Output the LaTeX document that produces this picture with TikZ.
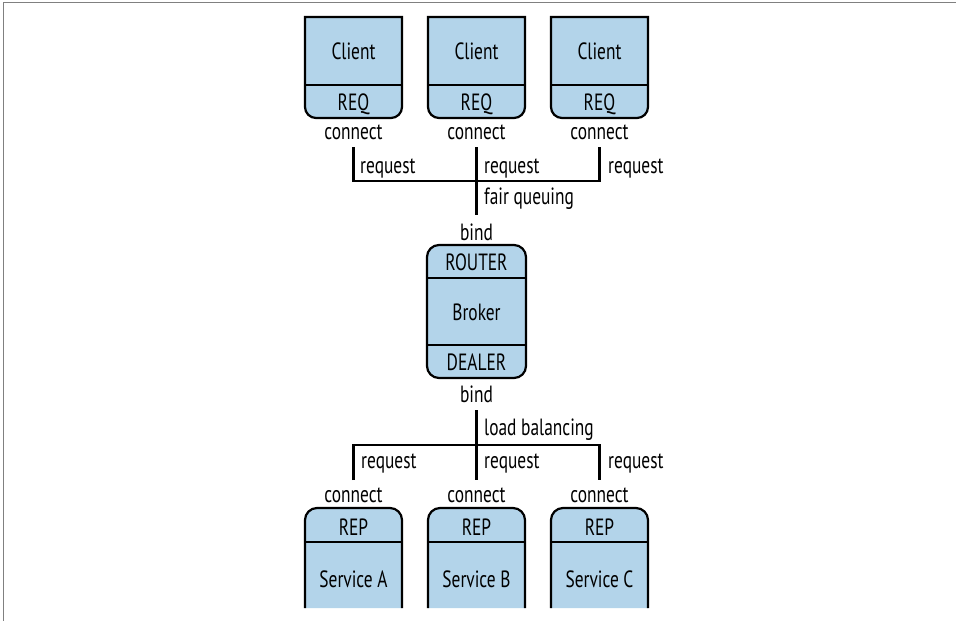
\documentclass[tikz,border=0pt]{standalone}
\usepackage{fontspec}
\setmainfont{PT Sans}[FakeStretch=0.74]
\definecolor{boxfill}{RGB}{179,212,234}
\definecolor{framegray}{RGB}{128,128,128}
\tikzset{
  boxline/.style={draw=black, line width=2.2pt, fill=boxfill},
  divider/.style={draw=black, line width=2.2pt},
  wire/.style={draw=black, line width=2.3pt},
  lbl/.style={inner sep=0pt, anchor=base},
  lbll/.style={inner sep=0pt, anchor=base west},
}
\begin{document}
\begin{tikzpicture}[x=1pt,y=1pt,font=\fontsize{23.5}{28}\selectfont]
\useasboundingbox (0,0) rectangle (956,-621);
% frame
\draw[framegray, line width=1.3pt] (3.2,-621) -- (3.2,-2.8) -- (956,-2.8);
% client boxes
\foreach \L/\n in {305/1,428/2,551/3}{
  \path[boxline] (\L,-17) -- (\L,-107) arc[start angle=180,end angle=270,radius=11]
     -- ({\L+86},-118) arc[start angle=270,end angle=360,radius=11] -- ({\L+97},-17) -- cycle;
  \draw[divider] (\L,-85) -- ({\L+97},-85);
  \node[lbl] (client\n) at ({\L+48.5},-59) {Client};
  \node[lbl] (req\n) at ({\L+48.5},-110) {REQ};
  \node[lbl] (connA\n) at ({\L+48.5},-139) {connect};
}
% broker
\path[boxline, rounded corners=12] (427,-245) rectangle (526,-378);
\draw[divider] (427,-278) -- (526,-278);
\draw[divider] (427,-345) -- (526,-345);
\node[lbl] (bindtop) at (476.5,-240) {bind};
\node[lbl] (router) at (476.5,-270) {ROUTER};
\node[lbl] (broker) at (476.5,-320) {Broker};
\node[lbl] (dealer) at (476.5,-370) {DEALER};
\node[lbl] (bindbot) at (476.5,-402) {bind};
% service boxes
\foreach \L/\n/\s in {305/1/A,428/2/B,551/3/C}{
  \path[boxline] (\L,-608) -- (\L,-520) arc[start angle=180,end angle=90,radius=12]
     -- ({\L+85},-508) arc[start angle=90,end angle=0,radius=12] -- ({\L+97},-608);
  \draw[divider] (\L,-542) -- ({\L+97},-542);
  \node[lbl] (rep\n) at ({\L+48.5},-535) {REP};
  \node[lbl] (service\n) at ({\L+48.5},-587) {Service \s};
  \node[lbl] (connB\n) at ({\L+48.5},-502) {connect};
}
% top tree
\coordinate (t1) at (353.5,-147);
\coordinate (t2) at (476.5,-147);
\coordinate (t3) at (599.5,-147);
\coordinate (h1) at (353.5,-181);
\coordinate (h3) at (599.5,-181);
\coordinate (m2) at (476.5,-215);
\draw[wire] (t1) -- (h1) -- (h3) -- (t3);
\draw[wire] (t2) -- (m2);
\node[lbll] (rq1) at (360,-173) {request};
\node[lbll] (rq2) at (484,-173) {request};
\node[lbll] (rq3) at (608,-173) {request};
\node[lbll] (fair) at (484,-204) {fair queuing};
% bottom tree
\coordinate (u2) at (476.5,-410);
\coordinate (g1) at (353.5,-445);
\coordinate (g3) at (599.5,-445);
\coordinate (d1) at (353.5,-480);
\coordinate (d2) at (476.5,-480);
\coordinate (d3) at (599.5,-480);
\draw[wire] (d1) -- (g1) -- (g3) -- (d3);
\draw[wire] (u2) -- (d2);
\node[lbll] (load) at (484,-435) {load balancing};
\node[lbll] (rs1) at (361,-468) {request};
\node[lbll] (rs2) at (484,-468) {request};
\node[lbll] (rs3) at (608,-468) {request};
\end{tikzpicture}
\end{document}
